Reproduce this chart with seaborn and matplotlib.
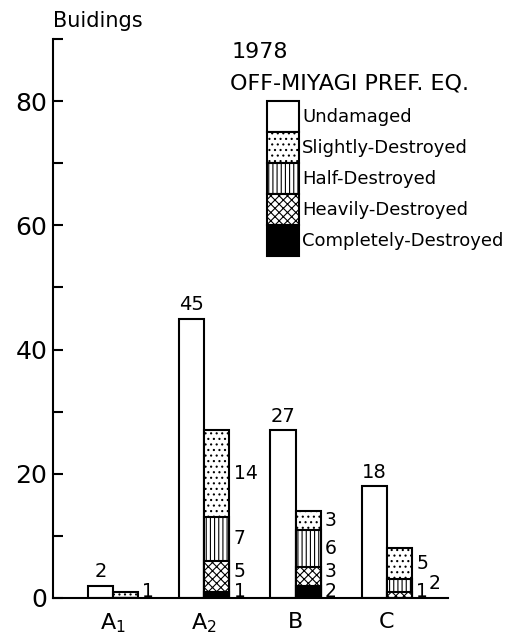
import matplotlib
matplotlib.use("Agg")
import matplotlib.pyplot as plt
from matplotlib.patches import Patch
import pandas as pd
import seaborn as sns

# Buildings per site, 1978 Off-Miyagi Prefecture earthquake
sites = ["A$_1$", "A$_2$", "B", "C"]
undamaged = [2, 45, 27, 18]
slightly = [1, 14, 3, 5]
half = [0, 7, 6, 2]
heavily = [0, 5, 3, 1]
completely = [0, 1, 2, 0]

level_names = ["Undamaged", "Slightly-Destroyed", "Half-Destroyed",
               "Heavily-Destroyed", "Completely-Destroyed"]

sns.set_style("ticks")
plt.rcParams["font.family"] = ["DejaVu Sans"]
plt.rcParams["hatch.linewidth"] = 0.8
plt.rcParams["hatch.color"] = "black"
for key in ["text.color", "axes.labelcolor", "xtick.color", "ytick.color",
            "axes.edgecolor"]:
    plt.rcParams[key] = "black"

fig = plt.figure(figsize=(5.13, 6.41), dpi=100)
ax = fig.add_axes([0.1033, 0.0671, 0.7697, 0.8720])

kinds = ["Undamaged", "Damaged"]
LW = 1.5


def draw_bars(values, kind, face, hatch=""):
    n_before = len(ax.containers)
    df = pd.DataFrame({"site": sites, "count": values, "kind": kind})
    sns.barplot(data=df, x="site", y="count", hue="kind", hue_order=kinds,
                order=sites, palette={k: face for k in kinds}, dodge=True,
                width=0.55, errorbar=None, edgecolor="black", linewidth=LW,
                hatch=hatch, legend=False, saturation=1, ax=ax)
    new = [c for c in ax.containers[n_before:] if len(c) == len(sites)]
    return new[0]


# undamaged buildings
und = draw_bars(undamaged, "Undamaged", "white")
ax.bar_label(und, labels=[str(v) for v in undamaged], padding=3, fontsize=14)

# damaged buildings, stacked from the bottom: completely, heavily, half, slightly
stack = [(completely, "black", ""), (heavily, "white", "xxxx"),
         (half, "white", "||||"), (slightly, "white", "...")]
cums = []
running = [0] * len(sites)
for vals, face, hatch in stack:
    running = [r + v for r, v in zip(running, vals)]
    cums.append(list(running))

containers = [None] * len(stack)
for idx in range(len(stack) - 1, -1, -1):
    vals, face, hatch = stack[idx]
    containers[idx] = draw_bars(cums[idx], "Damaged", face, hatch)

# segment counts written beside the damaged column
right_edges = [b.get_x() + b.get_width() for b in containers[-1]]
for i in range(len(sites)):
    prev_y = None
    below = 0
    for idx, (vals, face, hatch) in enumerate(stack):
        v = vals[i]
        if v > 0:
            y = max(below + v / 2, 1.0)
            dx = 3
            if prev_y is not None:
                if y - prev_y < 2:
                    y = prev_y + 1.3
                    dx = 12
                else:
                    y = max(y, prev_y + 3.3)
            ax.annotate(str(v), xy=(right_edges[i], y), xytext=(dx, 0),
                        textcoords="offset points", ha="left", va="center",
                        fontsize=13.5)
            prev_y = y
        below += v

ax.set_xlim(-0.657, 3.668)
ax.set_ylim(0, 90)
ax.set_yticks(range(0, 91, 10))
ax.set_yticklabels([str(t) if t % 20 == 0 and t < 90 else "" for t in range(0, 91, 10)])
ax.tick_params(axis="y", direction="in", length=7, width=LW, labelsize=18, pad=4)
ax.tick_params(axis="x", length=0, labelsize=16, pad=10)
ax.set_xlabel("")
ax.set_ylabel("")
for s in ["top", "right"]:
    ax.spines[s].set_visible(False)
for s in ["left", "bottom"]:
    ax.spines[s].set_linewidth(LW)
ax.patch.set_alpha(0)

fig.text(53 / 513, 1 - 21 / 641, "Buidings", ha="left", va="center", fontsize=15)
fig.text(232 / 513, 1 - 52 / 641, "1978", ha="left", va="center", fontsize=16)
fig.text(230 / 513, 1 - 83 / 641, "OFF-MIYAGI PREF. EQ.", ha="left", va="center",
         fontsize=16)

handles = [Patch(facecolor="white", edgecolor="black", linewidth=LW)]
for vals, face, hatch in reversed(stack):
    handles.append(Patch(facecolor=face, edgecolor="black", hatch=hatch, linewidth=LW))
fig.legend(handles, level_names, loc="upper left",
           bbox_to_anchor=(267 / 513, 1 - 101 / 641), bbox_transform=fig.transFigure,
           frameon=False, borderpad=0, borderaxespad=0, labelspacing=0,
           handlelength=1.77, handleheight=2.27, handletextpad=0.17, fontsize=13)

fig.savefig("out.png", dpi=100, facecolor="white")
